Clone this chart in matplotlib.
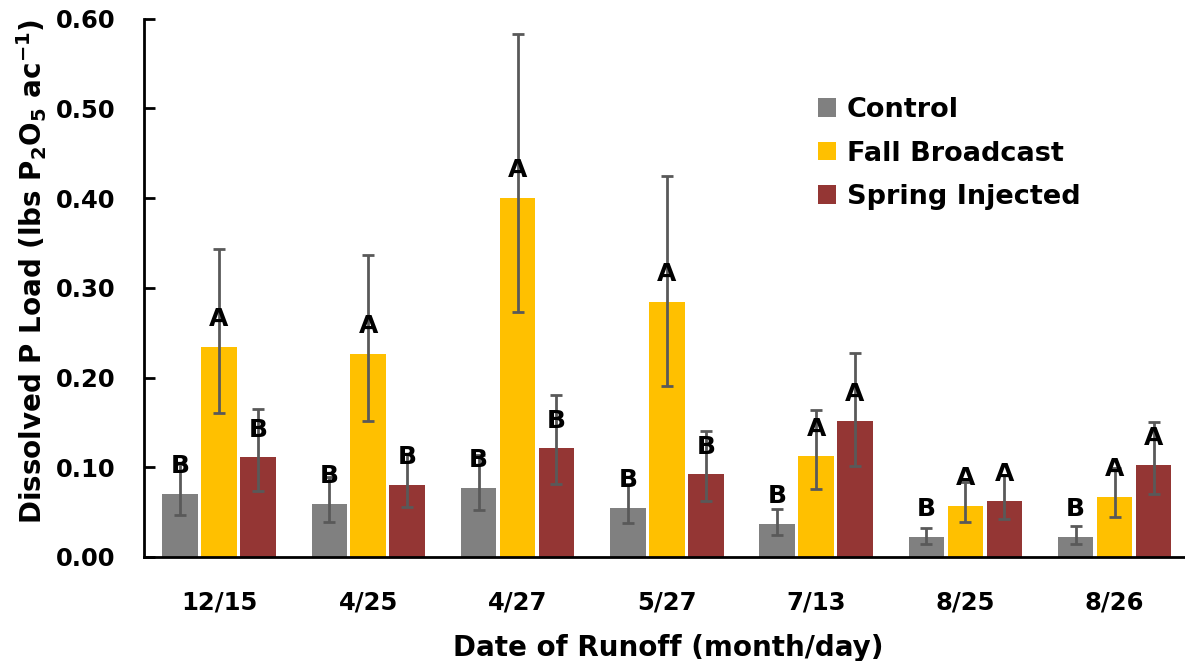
import numpy as np
import matplotlib
matplotlib.use('Agg')
import matplotlib.pyplot as plt

plt.rcParams['font.family'] = ['DejaVu Sans']
plt.rcParams['font.weight'] = 'bold'

# data
dates = ['12/15', '4/25', '4/27', '5/27', '7/13', '8/25', '8/26']
series = ['Control', 'Fall Broadcast', 'Spring Injected']

control = [0.070, 0.059, 0.077, 0.055, 0.037, 0.022, 0.022]
fall = [0.234, 0.226, 0.400, 0.284, 0.112, 0.057, 0.067]
spring = [0.111, 0.080, 0.121, 0.092, 0.151, 0.062, 0.102]

control_lo = [0.023, 0.020, 0.025, 0.017, 0.012, 0.007, 0.007]
control_hi = [0.034, 0.030, 0.037, 0.026, 0.017, 0.010, 0.012]
fall_lo = [0.074, 0.075, 0.127, 0.093, 0.036, 0.018, 0.022]
fall_hi = [0.109, 0.111, 0.183, 0.141, 0.052, 0.027, 0.032]
spring_lo = [0.037, 0.024, 0.040, 0.030, 0.050, 0.020, 0.032]
spring_hi = [0.054, 0.035, 0.060, 0.048, 0.076, 0.029, 0.048]

control_letters = ['B', 'B', 'B', 'B', 'B', 'B', 'B']
fall_letters = ['A', 'A', 'A', 'A', 'A', 'A', 'A']
spring_letters = ['B', 'B', 'B', 'B', 'A', 'A', 'A']

colors = ['#808080', '#FFC000', '#943634']

fig = plt.figure(figsize=(11.85, 6.61), dpi=100)
ax = fig.add_axes([144.3 / 1185, 104 / 661, 1045 / 1185, 538.5 / 661])

x = np.arange(len(dates))
width = 0.238
step = 0.261

vals = [control, fall, spring]
lows = [control_lo, fall_lo, spring_lo]
highs = [control_hi, fall_hi, spring_hi]
letters = [control_letters, fall_letters, spring_letters]

handles = []
for i in range(3):
    pos = x + (i - 1) * step
    b = ax.bar(pos, vals[i], width, color=colors[i], label=series[i], zorder=2)
    handles.append(b)
    ax.errorbar(pos, vals[i], yerr=[lows[i], highs[i]], fmt='none',
                ecolor='#595959', elinewidth=2, capsize=4, capthick=2, zorder=3)
    for p, v, t in zip(pos, vals[i], letters[i]):
        ax.annotate(t, (p, v), xytext=(0, 15), textcoords='offset points',
                    ha='center', va='baseline', fontsize=18, fontweight='bold',
                    color='black', zorder=4)

ax.set_xlim(-0.5, len(dates) - 0.5)
ax.set_ylim(0, 0.6)
ax.set_yticks(np.arange(0, 0.61, 0.1))
ax.set_yticklabels(['%.2f' % t for t in np.arange(0, 0.61, 0.1)])
ax.set_xticks(x)
ax.set_xticklabels(dates)

ax.tick_params(axis='y', direction='in', length=8, width=2, pad=21, labelsize=17.5)
ax.tick_params(axis='x', length=0, pad=24, labelsize=17.5)
for lab in ax.get_xticklabels() + ax.get_yticklabels():
    lab.set_fontweight('bold')

ax.spines['top'].set_visible(False)
ax.spines['right'].set_visible(False)
ax.spines['left'].set_linewidth(2)
ax.spines['bottom'].set_linewidth(2)

ax.set_ylabel(r'Dissolved P Load (lbs P$\mathregular{_2}$O$\mathregular{_5}$ ac$\mathregular{^{-1}}$)',
              fontsize=20, fontweight='bold')
ax.yaxis.set_label_coords(-0.091, 0.531)
ax.set_xlabel('Date of Runoff (month/day)', fontsize=20, fontweight='bold')
ax.xaxis.set_label_coords(0.501, -0.143)

fig.legend(handles=handles, labels=series, loc='upper left',
           bbox_to_anchor=(818 / 1185, 1 - 97 / 661), frameon=False,
           handlelength=0.67, handleheight=0.67,
           handletextpad=0.4, labelspacing=0.65, borderpad=0, borderaxespad=0,
           prop={'weight': 'bold', 'size': 19.5})

fig.savefig('out.png', dpi=100)
